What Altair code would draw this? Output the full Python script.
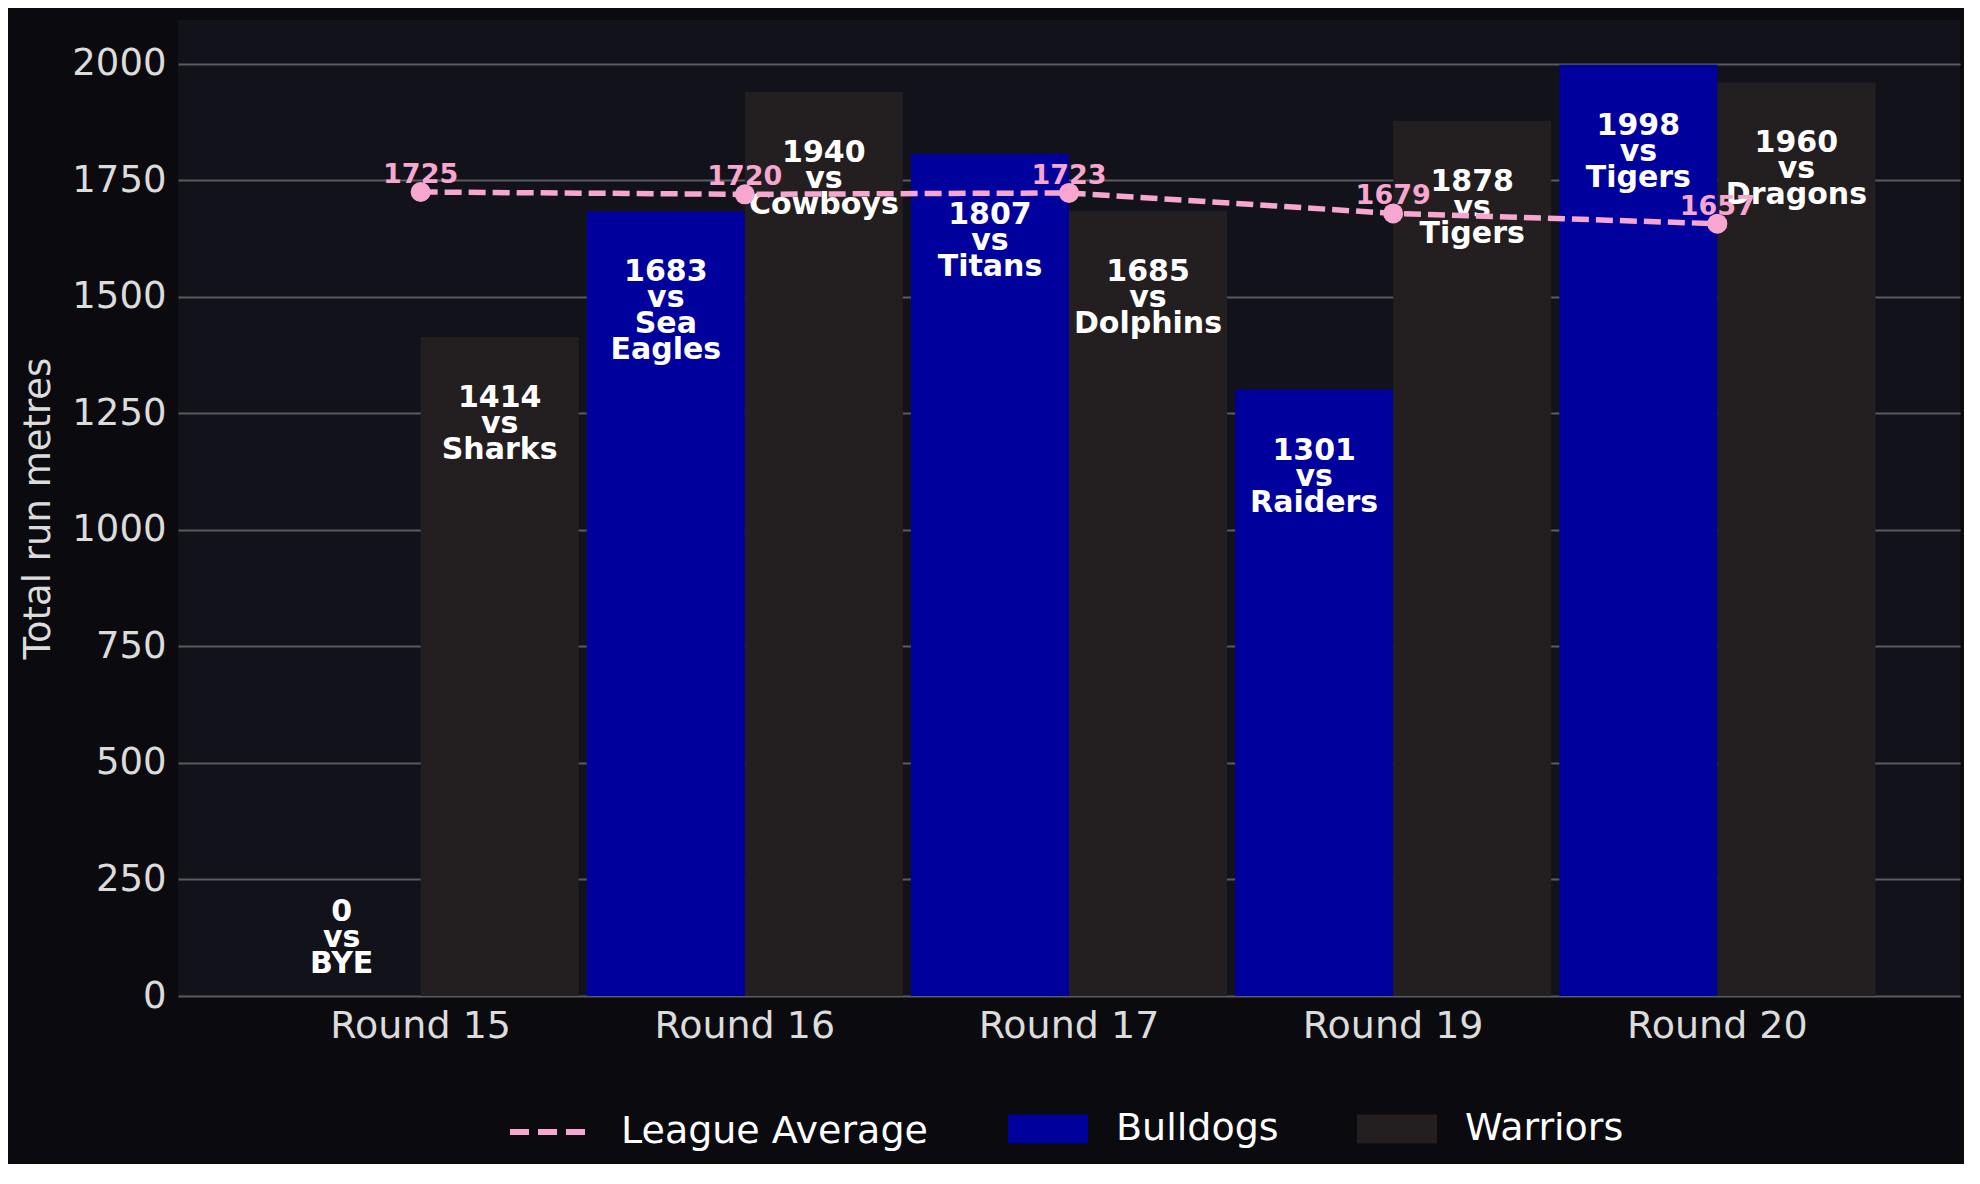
"""
Bulldogs vs Warriors total run metres by round, with league average
"""

import altair as alt
import pandas as pd

# Chart values
rounds = ["Round 15", "Round 16", "Round 17", "Round 19", "Round 20"]
bulldogs = [0, 1683, 1807, 1301, 1998]
bulldogs_opp = ["BYE", "Sea Eagles", "Titans", "Raiders", "Tigers"]
warriors = [1414, 1940, 1685, 1878, 1960]
warriors_opp = ["Sharks", "Cowboys", "Dolphins", "Tigers", "Dragons"]
league_avg = [1725, 1720, 1723, 1679, 1657]

team_names = ["Bulldogs", "Warriors"]
team_colours = ["#00009c", "#231f20"]
avg_name = "League Average"
PINK = "#f7a6d0"

PAGE_BG = "#0b0b0f"
PLOT_BG = "#12121a"
FONT = "DejaVu Sans"


def bar_label(value, opp):
    return f"{value}\nvs\n{opp.replace(' ', chr(10))}"


def main():
    bars = pd.DataFrame({
        "round": rounds * 2,
        "team": ["Bulldogs"] * len(rounds) + ["Warriors"] * len(rounds),
        "value": bulldogs + warriors,
        "opp": bulldogs_opp + warriors_opp,
    })
    bars["label"] = [bar_label(v, o) for v, o in zip(bars["value"], bars["opp"])]
    avg = pd.DataFrame({"round": rounds, "avg": league_avg})

    x = alt.X("round:N", sort=rounds,
              scale=alt.Scale(paddingInner=0.025, paddingOuter=0.261),
              axis=alt.Axis(title=None, labelAngle=0, ticks=False, domain=False,
                            grid=False, labelFontSize=38, labelPadding=11,
                            labelLimit=0, labelColor="#dcdcdc", labelFont=FONT))
    x_off = alt.XOffset("team:N", sort=team_names,
                        scale=alt.Scale(paddingInner=0, paddingOuter=0))
    y_scale = alt.Scale(domain=[0, 2094], nice=False)

    legend_common = dict(title=None, orient="none", direction="horizontal",
                         labelFontSize=38, labelColor="#ffffff", labelFont=FONT,
                         labelLimit=0, symbolSize=6400, labelOffset=28,
                         columnPadding=78, padding=0)

    bar_chart = alt.Chart(bars).mark_bar().encode(
        x=x, xOffset=x_off,
        y=alt.Y("value:Q", scale=y_scale,
                axis=alt.Axis(title="Total run metres", format="d",
                              values=list(range(0, 2001, 250)),
                              grid=True, gridColor="#5a5a60", gridWidth=2,
                              domain=False, ticks=False, labelPadding=12,
                              labelFontSize=37, labelColor="#dcdcdc",
                              labelFont=FONT, titleFont=FONT,
                              titleFontSize=37, titleFontWeight="normal",
                              titleColor="#dcdcdc", titlePadding=14)),
        fill=alt.Fill("team:N",
                      scale=alt.Scale(domain=team_names, range=team_colours),
                      legend=alt.Legend(symbolType="M-1,-0.36H1V0.36H-1Z",
                                        symbolStrokeWidth=0, symbolOpacity=1,
                                        legendX=830, legendY=1069,
                                        **legend_common)),
    )

    bar_text = alt.Chart(bars).transform_calculate(
        label_y="datum.value > 0 ? datum.value - 150 : 160"
    ).mark_text(font=FONT, fontSize=30, fontWeight="bold", color="white",
                lineBreak="\n", lineHeight=26, baseline="alphabetic",
                align="center").encode(
        x=x, xOffset=x_off,
        y=alt.Y("label_y:Q", scale=y_scale),
        text="label:N",
    )

    avg_line = alt.Chart(avg).mark_line(strokeWidth=5.5, strokeDash=[17, 7]).encode(
        x=x,
        y=alt.Y("avg:Q", scale=y_scale),
        stroke=alt.Stroke("name:N",
                          scale=alt.Scale(domain=[avg_name], range=[PINK]),
                          legend=alt.Legend(symbolType="stroke",
                                            symbolDash=[19, 9],
                                            symbolStrokeWidth=6,
                                            legendX=329, legendY=1069,
                                            **legend_common)),
    ).transform_calculate(name=f"'{avg_name}'")

    avg_points = alt.Chart(avg).mark_circle(size=400, opacity=1,
                                            color=PINK).encode(
        x=x,
        y=alt.Y("avg:Q", scale=y_scale),
    )
    avg_text = alt.Chart(avg).mark_text(font=FONT, fontSize=27, fontWeight="bold",
                                        color=PINK, dy=-9,
                                        baseline="alphabetic").encode(
        x=x,
        y=alt.Y("avg:Q", scale=y_scale),
        text="avg:Q",
    )

    chart = alt.layer(bar_chart, bar_text, avg_line, avg_points, avg_text).properties(
        width=1782, height=976,
        autosize=alt.AutoSizeParams(type="none"),
        padding={"left": 170, "top": 12, "right": 4, "bottom": 168},
        background=PAGE_BG,
    ).configure_view(fill=PLOT_BG, stroke=None)

    chart.save("out.html", embed_options={"renderer": "svg", "actions": False})


if __name__ == "__main__":
    main()
